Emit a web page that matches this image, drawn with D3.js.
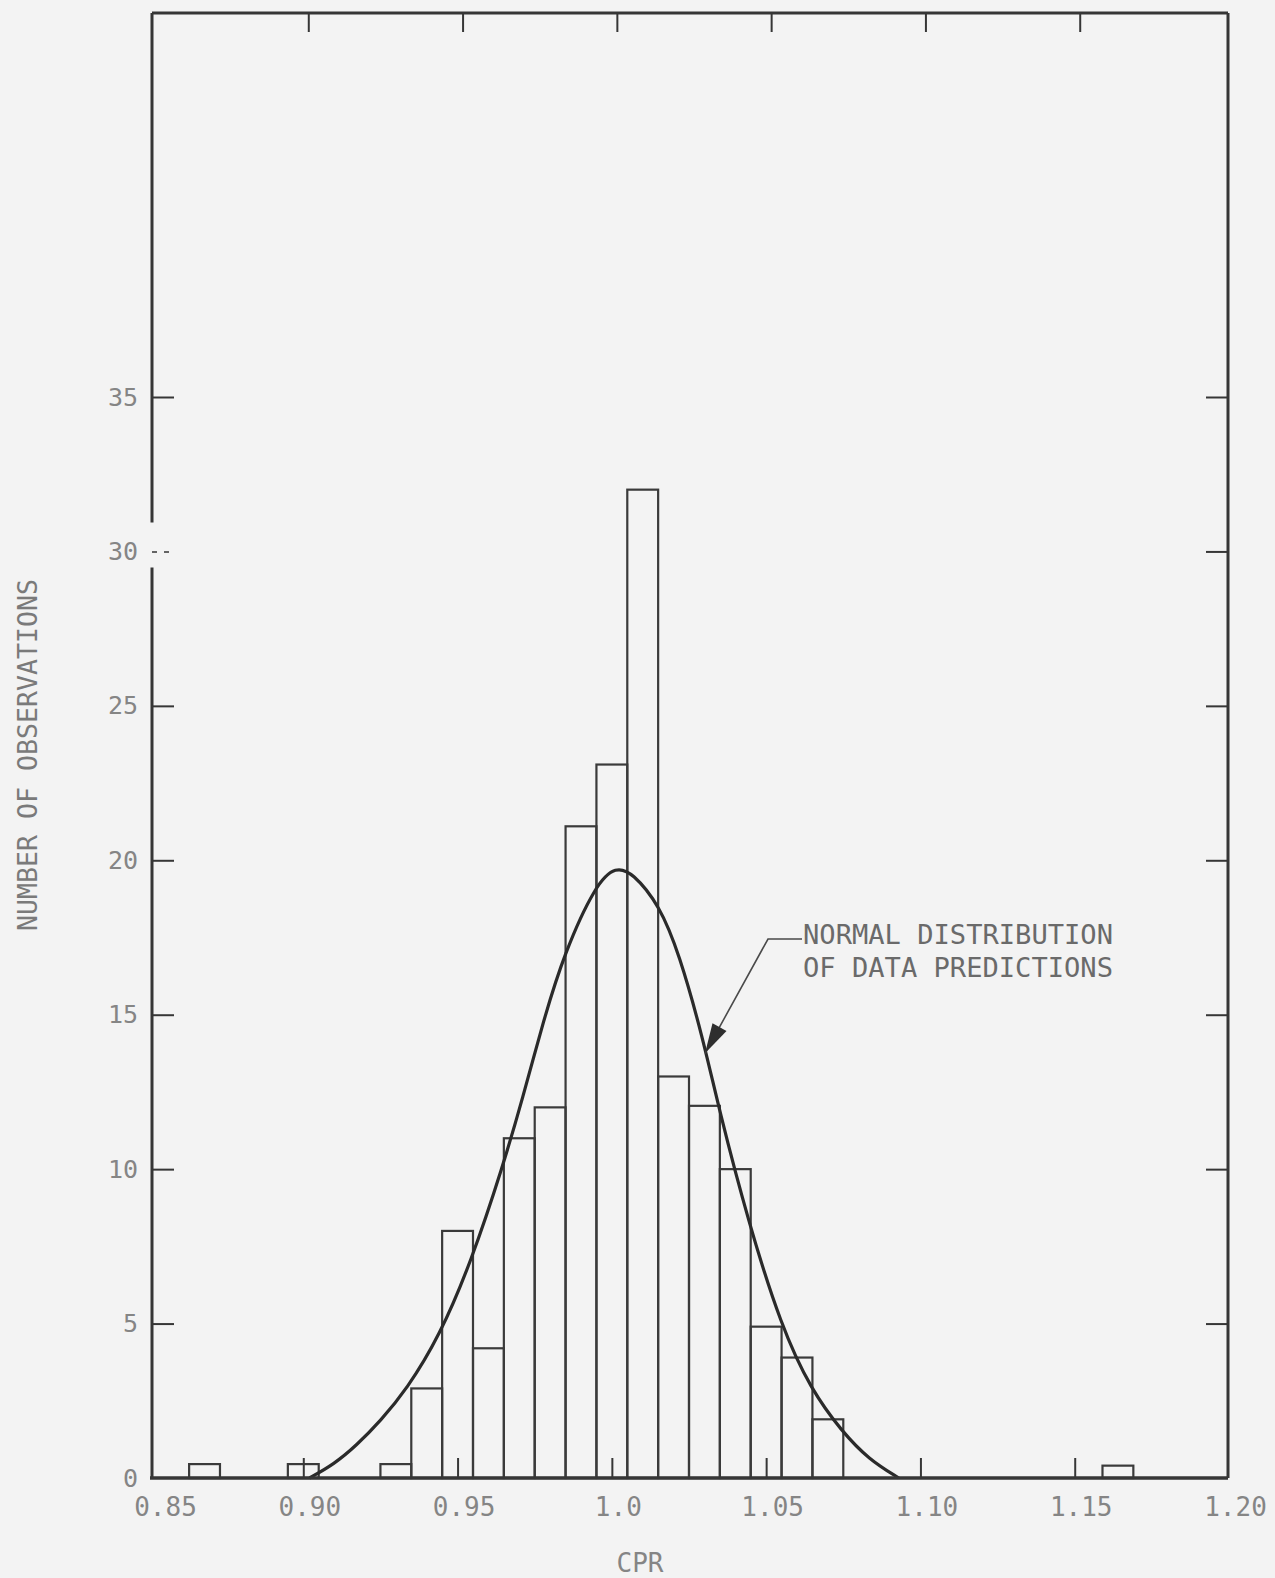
<!DOCTYPE html>
<html>
<head>
<meta charset="utf-8">
<script src="https://cdn.jsdelivr.net/npm/d3@7"></script>
<style>
  html, body { margin: 0; padding: 0; background: #f3f3f3; }
  svg { display: block; }
</style>
</head>
<body>
<script>
// ---------------- data ----------------
const binCenters = [0.868, 0.900, 0.930, 0.94, 0.95, 0.96, 0.97, 0.98, 0.99, 1.00, 1.01, 1.02, 1.03, 1.04, 1.05, 1.06, 1.07, 1.164];
const binCounts  = [0.45, 0.45, 0.45, 2.9, 8.0, 4.2, 11.0, 12.0, 21.1, 23.1, 32.0, 13.0, 12.05, 10.0, 4.9, 3.9, 1.9, 0.4];
const binWidth = 0.01;

const curveCPR   = [0.902, 0.910, 0.9172, 0.925, 0.9334, 0.9442, 0.9544, 0.9647, 0.9711, 0.9778, 0.9846, 0.9949, 1.0013, 1.0067, 1.0154, 1.0218, 1.0294, 1.0348, 1.0442, 1.0549, 1.0646, 1.0746, 1.0833, 1.093];
const curveCount = [0.0, 0.45, 1.05, 1.85, 2.85, 4.6, 7.0, 10.1, 12.3, 14.8, 17.0, 19.25, 19.8, 19.6, 18.55, 16.98, 14.29, 11.9, 8.3, 4.9, 2.85, 1.5, 0.6, 0.0];

const xTickValues = [0.85, 0.90, 0.95, 1.00, 1.05, 1.10, 1.15, 1.20];
const xTickLabels = ["0.85", "0.90", "0.95", "1.0", "1.05", "1.10", "1.15", "1.20"];
const xInnerTicks = [0.90, 0.95, 1.00, 1.05, 1.10, 1.15];
const yTickValues = [0, 5, 10, 15, 20, 25, 30, 35];
const yInnerTicks = [5, 10, 15, 20, 25, 30, 35];

const xTitle = "CPR";
const yTitle = "NUMBER OF OBSERVATIONS";
const noteLines = ["NORMAL DISTRIBUTION", "OF DATA PREDICTIONS"];

// ---------------- layout ----------------
const W = 1275, H = 1578;
const frameLeft = 152, frameRight = 1228, frameTop = 13, frameBottom = 1478;
const ink = "#363636";
const textInk = "#858585";
const mono = "'DejaVu Sans Mono', 'Liberation Mono', monospace";

const x = d3.scaleLinear().domain([0.85, 1.20]).range([149, 1229]);
const y = d3.scaleLinear().domain([0, 35]).range([1478, 397]);

const svg = d3.select("body").append("svg")
  .attr("width", W).attr("height", H)
  .attr("viewBox", `0 0 ${W} ${H}`);

svg.append("rect").attr("width", W).attr("height", H).attr("fill", "#f3f3f3");

// ---------------- bars ----------------
const bars = binCenters.map((c, i) => ({ c, n: binCounts[i] }));
svg.append("g").selectAll("rect").data(bars).join("rect")
  .attr("x", d => x(d.c - binWidth / 2))
  .attr("width", d => x(d.c + binWidth / 2) - x(d.c - binWidth / 2))
  .attr("y", d => y(d.n))
  .attr("height", d => y(0) - y(d.n))
  .attr("fill", "none")
  .attr("stroke", "#3a3a3a")
  .attr("stroke-width", 2.2);

// ---------------- normal curve ----------------
const pts = curveCPR.map((c, i) => [c, curveCount[i]]);
const line = d3.line().x(d => x(d[0])).y(d => y(d[1])).curve(d3.curveBasis);
svg.append("path").datum(pts)
  .attr("d", line)
  .attr("fill", "none")
  .attr("stroke", "#2a2a2a")
  .attr("stroke-width", 3.2)
  .attr("stroke-linejoin", "round");

// ---------------- frame ----------------
const frame = svg.append("g").attr("stroke", ink).attr("stroke-width", 3).attr("fill", "none");
frame.append("line").attr("x1", frameLeft).attr("x2", frameRight).attr("y1", frameTop).attr("y2", frameTop);
frame.append("line").attr("x1", frameLeft - 2).attr("x2", frameRight).attr("y1", frameBottom).attr("y2", frameBottom).attr("stroke-width", 3.5);
frame.append("line").attr("x1", frameRight).attr("x2", frameRight).attr("y1", frameTop).attr("y2", frameBottom);
// left side has a small break around the 30 tick (as in the scan)
frame.append("line").attr("x1", frameLeft).attr("x2", frameLeft).attr("y1", frameTop).attr("y2", y(30) - 29);
frame.append("line").attr("x1", frameLeft).attr("x2", frameLeft).attr("y1", y(30) + 16).attr("y2", frameBottom);

// ---------------- inward ticks via d3 axes ----------------
function styleTicks(g) {
  g.select(".domain").remove();
  g.selectAll("text").remove();
  g.selectAll("line").attr("stroke", ink).attr("stroke-width", 2);
}
svg.append("g").attr("transform", `translate(0,${frameBottom})`)
  .call(d3.axisTop(x).tickValues(xInnerTicks).tickSize(20).tickFormat(""))
  .call(styleTicks);
svg.append("g").attr("transform", `translate(5,${frameTop})`)
  .call(d3.axisBottom(x).tickValues(xInnerTicks).tickSize(19).tickFormat(""))
  .call(styleTicks);
const leftTicks = svg.append("g").attr("transform", `translate(${frameLeft},0)`)
  .call(d3.axisRight(y).tickValues(yInnerTicks).tickSize(22).tickFormat(""))
  .call(styleTicks);
leftTicks.selectAll(".tick").filter(d => d === 30).select("line")
  .attr("stroke-dasharray", "5,7").attr("stroke-width", 1.5);
svg.append("g").attr("transform", `translate(${frameRight},0)`)
  .call(d3.axisLeft(y).tickValues(yInnerTicks).tickSize(22).tickFormat(""))
  .call(styleTicks);

// ---------------- tick labels via d3 axes ----------------
const xLab = svg.append("g").attr("transform", `translate(0,${frameBottom})`)
  .call(d3.axisBottom(x).tickValues(xTickValues).tickSize(0).tickPadding(20)
        .tickFormat((d, i) => xTickLabels[i]));
xLab.select(".domain").remove();
xLab.selectAll("text")
  .attr("x", (d, i) => i === 0 ? 16 : 6)
  .attr("font-family", mono).attr("font-size", 26)
  .attr("fill", textInk);

const yLab = svg.append("g").attr("transform", `translate(${frameLeft},0)`)
  .call(d3.axisLeft(y).tickValues(yTickValues).tickSize(0).tickPadding(14)
        .tickFormat(d3.format("d")));
yLab.select(".domain").remove();
yLab.selectAll("text")
  .attr("font-family", mono).attr("font-size", 25)
  .attr("fill", textInk);

// ---------------- axis titles ----------------
svg.append("text")
  .attr("x", 640).attr("y", 1572)
  .attr("text-anchor", "middle")
  .attr("font-family", mono).attr("font-size", 26)
  .attr("fill", textInk)
  .text(xTitle);

svg.append("text")
  .attr("transform", "translate(37,755) rotate(-90)")
  .attr("text-anchor", "middle")
  .attr("font-family", mono).attr("font-size", 26)
  .attr("textLength", 352).attr("lengthAdjust", "spacingAndGlyphs")
  .attr("fill", "#7a7a7a")
  .text(yTitle);

// ---------------- annotation ----------------
const note = svg.append("g").attr("font-family", mono).attr("font-size", 27).attr("fill", "#6a6a6a");
noteLines.forEach((t, i) => {
  note.append("text")
    .attr("x", 803).attr("y", 944 + i * 33)
    .attr("textLength", 310).attr("lengthAdjust", "spacingAndGlyphs")
    .text(t);
});

const tip = [x(1.0302), y(13.75)];
const elbow = [768, 939];
svg.append("path")
  .attr("d", `M802,939 L${elbow[0]},${elbow[1]} L${tip[0]},${tip[1]}`)
  .attr("fill", "none").attr("stroke", "#4a4a4a").attr("stroke-width", 1.6);

// filled arrowhead along the leader direction
const dx = elbow[0] - tip[0], dy = elbow[1] - tip[1];
const len = Math.hypot(dx, dy);
const ux = dx / len, uy = dy / len;
const headLen = 30, headHalf = 8;
const bx = tip[0] + ux * headLen, by = tip[1] + uy * headLen;
svg.append("path")
  .attr("d", `M${tip[0]},${tip[1]} L${bx - uy * headHalf},${by + ux * headHalf} L${bx + uy * headHalf},${by - ux * headHalf} Z`)
  .attr("fill", "#2e2e2e");
</script>
</body>
</html>
